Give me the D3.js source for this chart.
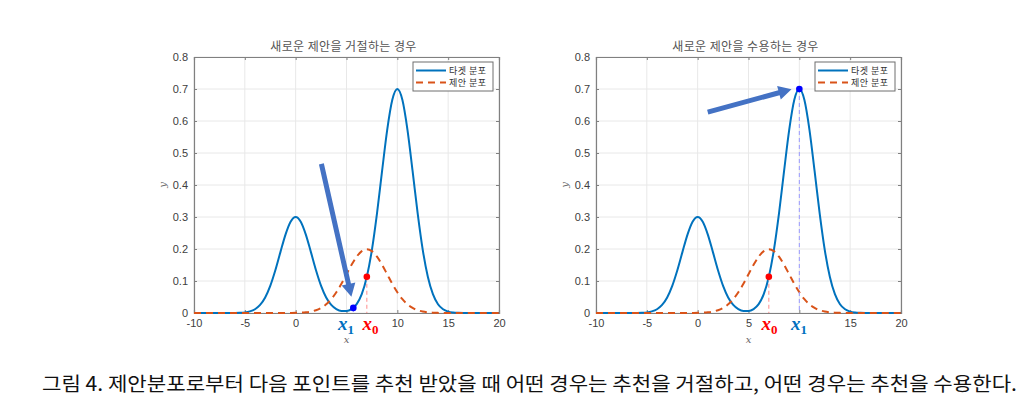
<!DOCTYPE html>
<html>
<head>
<meta charset="utf-8">
<script src="https://cdn.jsdelivr.net/npm/d3@7"></script>
<style>
  body { margin: 0; background: #fff; }
  svg { display: block; }
</style>
</head>
<body>
<svg id="chart" width="1036" height="414"></svg>
<script>
// sample points (x every 0.5)
const xGrid = [-10,-9.5,-9,-8.5,-8,-7.5,-7,-6.5,-6,-5.5,-5,-4.5,-4,-3.5,-3,-2.5,-2,-1.5,-1,-0.5,
  0,0.5,1,1.5,2,2.5,3,3.5,4,4.5,5,5.5,6,6.5,7,7.5,8,8.5,9,9.5,
  10,10.5,11,11.5,12,12.5,13,13.5,14,14.5,15,15.5,16,16.5,17,17.5,18,18.5,19,19.5,20];

const targetY = [0,0,0,0,0,0,0,0,0.0002,0.0007,0.0019,0.0050,0.0118,0.0251,0.0485,0.0847,0.1335,0.1903,0.2450,0.2852,
  0.3000,0.2852,0.2450,0.1903,0.1335,0.0847,0.0485,0.0252,0.0123,0.0065,0.0063,0.0123,0.0276,0.0587,0.1132,0.1975,0.3115,0.4439,0.5717,0.6655,
  0.7000,0.6655,0.5717,0.4439,0.3115,0.1975,0.1132,0.0587,0.0274,0.0116,0.0044,0.0015,0.0005,0.0001,0,0,0,0,0,0,0];

const proposalY = [0,0,0,0,0,0,0,0,0,0,0,0,0,0,0,0,0,0,0.0001,0.0002,
  0.0004,0.0010,0.0022,0.0045,0.0088,0.0159,0.0270,0.0431,0.0648,0.0913,0.1210,0.1506,0.1760,0.1934,0.1995,0.1934,0.1760,0.1506,0.1210,0.0913,
  0.0648,0.0431,0.0270,0.0159,0.0088,0.0045,0.0022,0.0010,0.0004,0.0002,0.0001,0,0,0,0,0,0,0,0,0,0];

const xTicks = [-10, -5, 0, 5, 10, 15, 20];
const yTicks = [0, 0.1, 0.2, 0.3, 0.4, 0.5, 0.6, 0.7, 0.8];
// tick label hidden under the x1 label in each panel
const hiddenXTick = [5, 10];
const legendLabels = ["타겟 분포", "제안 분포"];
const titles = ["새로운 제안을 거절하는 경우", "새로운 제안을 수용하는 경우"];

// proposed point x0 and next point x1 for each panel
const pointX0 = [[7, 0.1132], [7, 0.1132]];
const pointX1 = [[5.67, 0.016], [10, 0.7]];
const arrowFrom = [[2.53, 0.466], [0.99, 0.628]];
const arrowTo = [[5.48, 0.051], [9.23, 0.699]];
const labelPosX1 = [4.95, 9.97];
const labelPosX0 = [7.35, 7.07];

const caption = "그림 4. 제안분포로부터 다음 포인트를 추천 받았을 때 어떤 경우는 추천을 거절하고, 어떤 경우는 추천을 수용한다.";

const BLUE = "#0072BD";
const ORANGE = "#D95319";
const ARROW = "#4472C4";
const AXIS_COL = "#808080";
const GRID_COL = "#e8e8e8";
const TEXT_COL = "#404040";

const svg = d3.select("#chart");
svg.append("rect").attr("width", 1036).attr("height", 414).attr("fill", "#fff");

const panels = [
  { left: 194, right: 499 },
  { left: 596, right: 901 }
];
const plotTop = 57, plotBottom = 313;

const series = xGrid.map((x, i) => ({ x: x, t: targetY[i], p: proposalY[i] }));

function arrowPath(p1, p2, shaft, headW, headL) {
  const dx = p2[0] - p1[0], dy = p2[1] - p1[1];
  const len = Math.sqrt(dx * dx + dy * dy);
  const ux = dx / len, uy = dy / len;
  const nx = -uy, ny = ux;
  const bx = p2[0] - ux * headL, by = p2[1] - uy * headL;
  const pts = [
    [p1[0] + nx * shaft / 2, p1[1] + ny * shaft / 2],
    [bx + nx * shaft / 2, by + ny * shaft / 2],
    [bx + nx * headW / 2, by + ny * headW / 2],
    p2,
    [bx - nx * headW / 2, by - ny * headW / 2],
    [bx - nx * shaft / 2, by - ny * shaft / 2],
    [p1[0] - nx * shaft / 2, p1[1] - ny * shaft / 2]
  ];
  return "M" + pts.map(p => p.join(",")).join("L") + "Z";
}

panels.forEach((pn, k) => {
  const x = d3.scaleLinear().domain([-10, 20]).range([pn.left, pn.right]);
  const y = d3.scaleLinear().domain([0, 0.8]).range([plotBottom, plotTop]);
  const g = svg.append("g");

  // grid
  g.append("g").selectAll("line").data(xTicks).join("line")
    .attr("x1", d => x(d)).attr("x2", d => x(d)).attr("y1", plotTop).attr("y2", plotBottom)
    .attr("stroke", GRID_COL).attr("stroke-width", 1);
  g.append("g").selectAll("line").data(yTicks).join("line")
    .attr("x1", pn.left).attr("x2", pn.right).attr("y1", d => y(d)).attr("y2", d => y(d))
    .attr("stroke", GRID_COL).attr("stroke-width", 1);

  // axes (box, ticks inside)
  const xAxisB = d3.axisBottom(x).tickValues(xTicks).tickSize(-3).tickPadding(6)
    .tickFormat(d => d === hiddenXTick[k] ? "" : String(d));
  const xAxisT = d3.axisTop(x).tickValues(xTicks).tickSize(-3).tickFormat("");
  const yAxisL = d3.axisLeft(y).tickValues(yTicks).tickSize(-3).tickPadding(6).tickFormat(d => d === 0 ? "0" : d3.format(".1f")(d));
  const yAxisR = d3.axisRight(y).tickValues(yTicks).tickSize(-3).tickFormat("");
  [
    [xAxisB, `translate(0,${plotBottom})`],
    [xAxisT, `translate(0,${plotTop})`],
    [yAxisL, `translate(${pn.left},0)`],
    [yAxisR, `translate(${pn.right},0)`]
  ].forEach(([ax, tr]) => {
    const a = g.append("g").attr("transform", tr).call(ax);
    a.select(".domain").attr("stroke", AXIS_COL).attr("stroke-width", 1.2);
    a.selectAll(".tick line").attr("stroke", AXIS_COL);
    a.selectAll("text").attr("fill", TEXT_COL).attr("font-family", "Liberation Sans, Arial, sans-serif").attr("font-size", 11);
  });

  // curves
  const line = d3.line().curve(d3.curveMonotoneX).x(d => x(d.x));
  g.append("path").datum(series)
    .attr("d", line.y(d => y(d.t)))
    .attr("fill", "none").attr("stroke", BLUE).attr("stroke-width", 2);
  g.append("path").datum(series)
    .attr("d", line.y(d => y(d.p)))
    .attr("fill", "none").attr("stroke", ORANGE).attr("stroke-width", 2)
    .attr("stroke-dasharray", "7,5");

  // dashed drop lines
  g.append("line")
    .attr("x1", x(pointX0[k][0])).attr("x2", x(pointX0[k][0]))
    .attr("y1", y(pointX0[k][1])).attr("y2", y(0))
    .attr("stroke", "#ff8c8c").attr("stroke-width", 1).attr("stroke-dasharray", "4,3");
  g.append("line")
    .attr("x1", x(pointX1[k][0])).attr("x2", x(pointX1[k][0]))
    .attr("y1", y(pointX1[k][1])).attr("y2", y(0))
    .attr("stroke", "#9b9bff").attr("stroke-width", 1).attr("stroke-dasharray", "4,3");

  // points
  g.append("circle").attr("cx", x(pointX0[k][0])).attr("cy", y(pointX0[k][1])).attr("r", 3.3).attr("fill", "#ff0000");
  g.append("circle").attr("cx", x(pointX1[k][0])).attr("cy", y(pointX1[k][1])).attr("r", 3.3).attr("fill", "#0000ff");

  // arrow
  g.append("path")
    .attr("d", arrowPath([x(arrowFrom[k][0]), y(arrowFrom[k][1])], [x(arrowTo[k][0]), y(arrowTo[k][1])], 5, 14, 13))
    .attr("fill", ARROW);

  // x0 / x1 labels
  const lab = (xv, name, sub, col) => {
    const t = g.append("text")
      .attr("x", x(xv)).attr("y", 330)
      .attr("text-anchor", "middle")
      .attr("font-family", "Liberation Serif, DejaVu Serif, serif")
      .attr("font-weight", "bold").attr("font-style", "italic")
      .attr("font-size", 19).attr("fill", col);
    t.append("tspan").text(name);
    t.append("tspan").attr("font-size", 13).attr("font-style", "normal").attr("dy", 4).text(sub);
  };
  lab(labelPosX1[k], "x", "1", "#0070C0");
  lab(labelPosX0[k], "x", "0", "#ff0000");

  // axis labels
  g.append("text").attr("x", (pn.left + pn.right) / 2).attr("y", 343)
    .attr("text-anchor", "middle").attr("font-family", "DejaVu Serif, serif").attr("font-style", "italic")
    .attr("font-size", 10).attr("fill", "#666").text("x");
  g.append("text").attr("transform", `translate(${pn.left - 28},${(plotTop + plotBottom) / 2}) rotate(-90)`)
    .attr("text-anchor", "middle").attr("font-family", "DejaVu Serif, serif").attr("font-style", "italic")
    .attr("font-size", 10).attr("fill", "#666").text("y");

  // title
  g.append("text").attr("x", (pn.left + pn.right) / 2 - 3).attr("y", 51)
    .attr("text-anchor", "middle").attr("font-family", "Noto Sans CJK KR, sans-serif")
    .attr("font-size", 12).attr("letter-spacing", 0.4).attr("fill", "#555").text(titles[k]);

  // legend
  const lx = pn.right - 86, ly = 62;
  const leg = g.append("g");
  leg.append("rect").attr("x", lx).attr("y", ly).attr("width", 80).attr("height", 29)
    .attr("fill", "#fff").attr("stroke", "#6e6e6e").attr("stroke-width", 1);
  legendLabels.forEach((lbl, i) => {
    const yy = ly + 8.5 + i * 12;
    leg.append("line").attr("x1", lx + 3).attr("x2", lx + 33).attr("y1", yy).attr("y2", yy)
      .attr("stroke", i === 0 ? BLUE : ORANGE).attr("stroke-width", 2)
      .attr("stroke-dasharray", i === 0 ? null : "7,5");
    leg.append("text").attr("x", lx + 36).attr("y", yy + 3.3)
      .attr("font-family", "Noto Sans CJK KR, sans-serif").attr("font-size", 9)
      .attr("letter-spacing", 0.5).attr("fill", "#333").text(lbl);
  });
});

// caption
svg.append("text").attr("x", 42).attr("y", 391)
  .attr("font-family", "Noto Sans CJK KR, sans-serif").attr("font-size", 19.5)
  .attr("fill", "#111").attr("textLength", 975).attr("lengthAdjust", "spacingAndGlyphs")
  .text(caption);
</script>
</body>
</html>
